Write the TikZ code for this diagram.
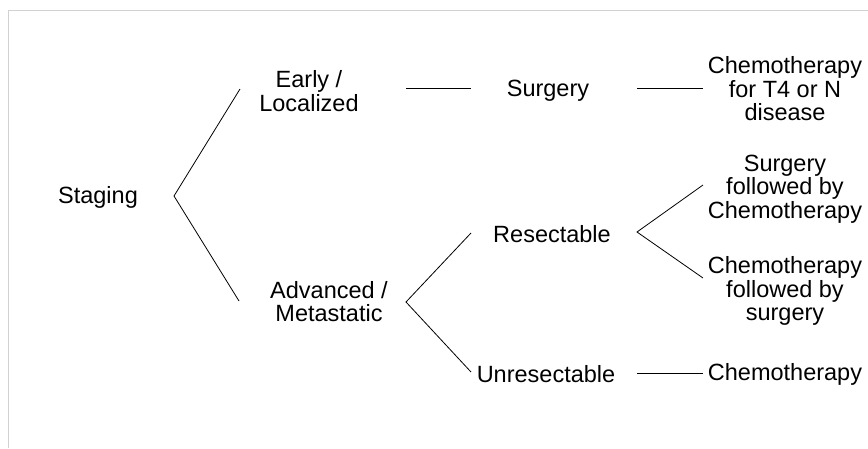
\documentclass[tikz,border=0pt]{standalone}
\usepackage{fontspec}
\setmainfont{Liberation Sans}
\begin{document}
\begin{tikzpicture}[x=1pt,y=-1pt,
  lbl/.style={align=center,inner sep=0pt,font=\fontsize{23.5}{23.5}\selectfont},
  conn/.style={draw=black,line width=0.8pt},
  frame/.style={draw=black!18,line width=0.8pt}]
\useasboundingbox (0,0) rectangle (868,448);
\draw[frame] (8,448) -- (8,10.5) -- (868,10.5);
% nodes
\node[lbl] (st) at (98,197) {Staging};
\node[lbl] (el) at (309,91) {Early /\\Localized};
\node[lbl] (am) at (329,301.5) {Advanced /\\Metastatic};
\node[lbl] (su) at (548,91) {Surgery};
\node[lbl] (re) at (552,234) {Resectable};
\node[lbl] (un) at (546,374) {Unresectable};
\node[lbl] (c1) at (785,89) {Chemotherapy\\for T4 or N\\disease};
\node[lbl] (c2) at (785,189) {Surgery\\followed by\\Chemotherapy};
\node[lbl] (c3) at (785,291) {Chemotherapy\\followed by\\surgery};
\node[lbl] (c4) at (785,374) {Chemotherapy};
% connector ends
\coordinate (stj) at (174,196);
\coordinate (elin) at (240,89);
\coordinate (amin) at (239,301);
\coordinate (elout) at (406,88);
\coordinate (suin) at (471,88);
\coordinate (amj) at (406,302);
\coordinate (rein) at (471,233);
\coordinate (unin) at (471,372);
\coordinate (suout) at (637,88);
\coordinate (c1in) at (703,88);
\coordinate (rej) at (637,232);
\coordinate (c2in) at (703,185);
\coordinate (c3in) at (703,278);
\coordinate (unout) at (637,373);
\coordinate (c4in) at (703,373);
% connectors
\draw[conn] (elin) -- (stj) -- (amin);
\draw[conn] (elout) -- (suin);
\draw[conn] (rein) -- (amj) -- (unin);
\draw[conn] (suout) -- (c1in);
\draw[conn] (c2in) -- (rej) -- (c3in);
\draw[conn] (unout) -- (c4in);
\end{tikzpicture}
\end{document}
